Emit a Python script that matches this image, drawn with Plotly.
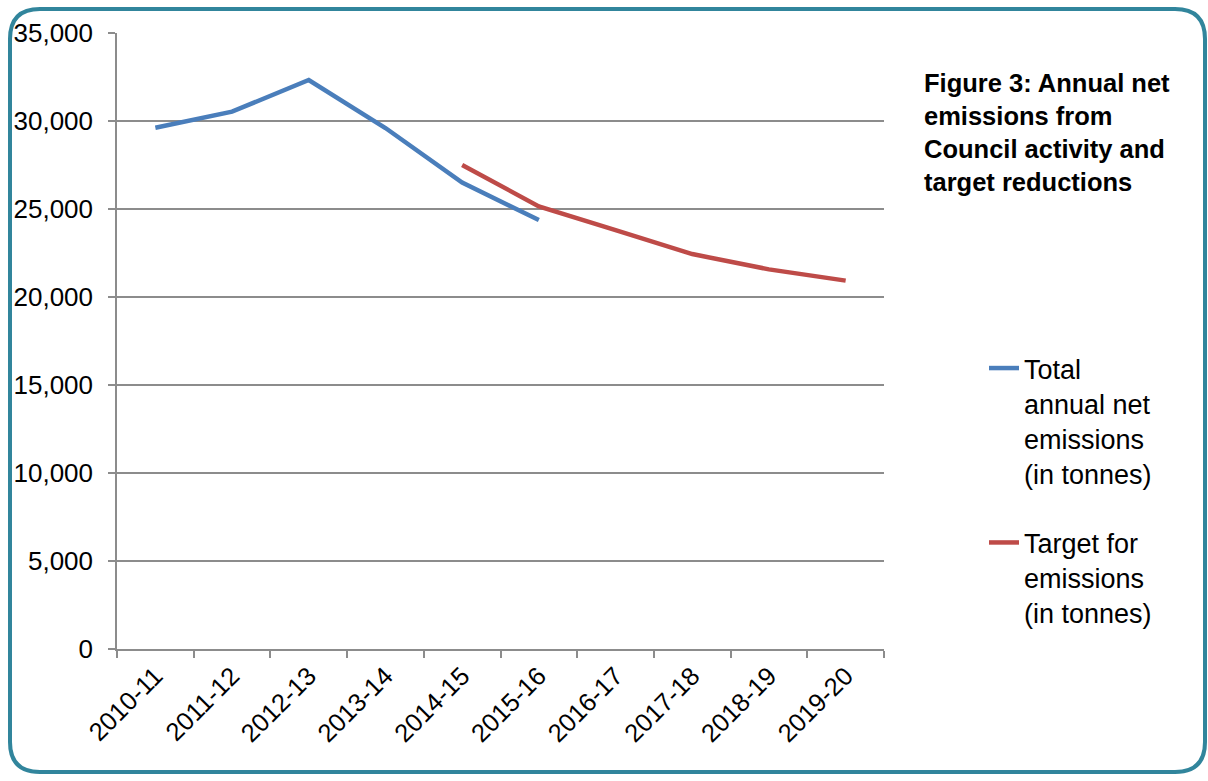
import plotly.graph_objects as go

years = ["2010-11", "2011-12", "2012-13", "2013-14", "2014-15",
         "2015-16", "2016-17", "2017-18", "2018-19", "2019-20"]
total_emissions = [29620, 30530, 32330, 29600, 26500, 24370, None, None, None, None]
target_emissions = [None, None, None, None, 27500, 25150, 23800, 22440, 21570, 20930]
y_ticks = [0, 5000, 10000, 15000, 20000, 25000, 30000, 35000]

W, H = 1208, 781
L, R, T, B = 117, 884, 33, 649

def px(x):
    return (x - L) / (R - L)

def py(y):
    return (B - y) / (B - T)

FONT = "Liberation Sans, Arial, sans-serif"

fig = go.Figure()
fig.add_trace(go.Scatter(
    x=years, y=total_emissions, mode="lines", legendgroup="total",
    name="Total<br>annual net<br>emissions<br>(in tonnes)",
    line=dict(color="#4A7EBB", width=4.5),
))
fig.add_trace(go.Scatter(
    x=years, y=target_emissions, mode="lines", legendgroup="target",
    name="Target for<br>emissions<br>(in tonnes)",
    line=dict(color="#BE4B48", width=4.5),
))

# rounded border
x0, x1, y0, y1, r = 10, 1205, 9, 772, 30
path = (f"M {px(x0 + r)} {py(y0)} L {px(x1 - r)} {py(y0)} "
        f"Q {px(x1)} {py(y0)} {px(x1)} {py(y0 + r)} "
        f"L {px(x1)} {py(y1 - r)} Q {px(x1)} {py(y1)} {px(x1 - r)} {py(y1)} "
        f"L {px(x0 + r)} {py(y1)} Q {px(x0)} {py(y1)} {px(x0)} {py(y1 - r)} "
        f"L {px(x0)} {py(y0 + r)} Q {px(x0)} {py(y0)} {px(x0 + r)} {py(y0)} Z")
fig.add_shape(type="path", path=path, xref="paper", yref="paper",
              line=dict(color="#31859C", width=4), layer="below")

fig.add_annotation(
    text="<b>Figure 3: Annual net<br>emissions from<br>Council activity and<br>target reductions</b>",
    xref="paper", yref="paper", x=px(922), y=py(67), xanchor="left", yanchor="top",
    align="left", showarrow=False,
    font=dict(family=FONT, size=25.5, color="#000000"),
)

fig.update_layout(
    width=W, height=H,
    margin=dict(l=L, r=W - R, t=T, b=H - B),
    paper_bgcolor="white", plot_bgcolor="white",
    font=dict(family=FONT, size=25, color="#000000"),
    showlegend=True,
    legend=dict(x=px(984), y=py(344), xanchor="left", yanchor="top",
                valign="top", tracegroupgap=31, bgcolor="rgba(0,0,0,0)",
                font=dict(size=27)),
    xaxis=dict(
        type="category", range=[-0.5, 9.5], tickangle=-45,
        showgrid=False, showline=True, linecolor="#8C8C8C", linewidth=1.5,
        ticks="outside", tickson="boundaries", ticklen=7, tickwidth=1.5,
        tickcolor="#8C8C8C", tickfont=dict(size=25.5),
    ),
    yaxis=dict(
        range=[0, 35000], tickvals=y_ticks, tickformat=",d",
        showgrid=True, gridcolor="#8C8C8C", gridwidth=1.5,
        showline=True, linecolor="#8C8C8C", linewidth=1.5,
        ticks="outside", ticklen=7, tickwidth=1.5, tickcolor="#8C8C8C",
        ticklabelstandoff=10, zeroline=False, tickfont=dict(size=26),
    ),
)

fig.write_html("out.html", config={"displayModeBar": False},
               post_script="document.body.style.margin='0px';")
